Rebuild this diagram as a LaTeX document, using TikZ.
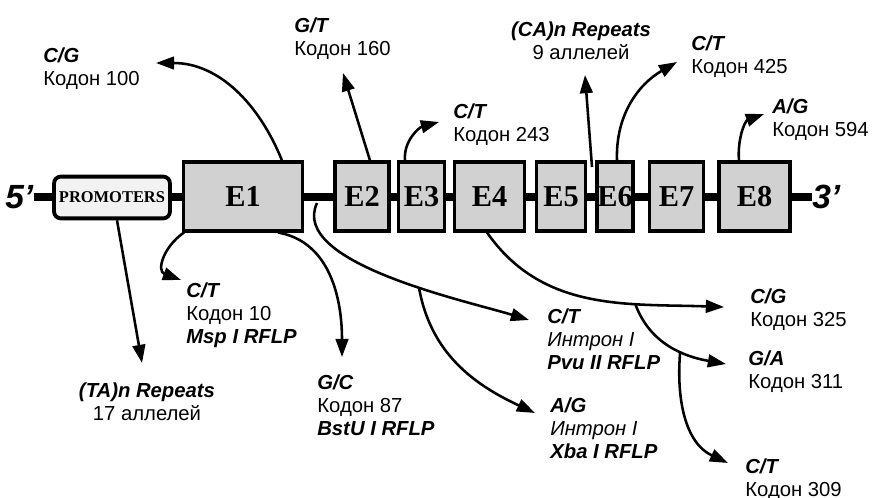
\documentclass[tikz,border=0pt]{standalone}
\usepackage{fontspec}
\setmainfont{Liberation Sans}
\newfontfamily\exonfont{Liberation Serif}
\usetikzlibrary{arrows.meta, positioning}

\begin{document}
\begin{tikzpicture}[
    x=0.022cm, y=-0.022cm,
    every node/.style={inner sep=0pt},
    exon/.style={
            rectangle,
            draw,
            line width=2.4pt,
            fill=black!18,
            minimum height=1.5cm,
            font={\exonfont\bfseries\fontsize{19}{19}\selectfont}
        },
    promoter_block/.style={
            rectangle,
            rounded corners=1.5mm,
            draw,
            line width=2.4pt,
            fill=black!5,
            minimum width=2.55cm,
            minimum height=0.92cm,
            font={\exonfont\bfseries\fontsize{10.3}{10}\selectfont}
        },
    strand_end/.style={font={\bfseries\itshape\fontsize{21}{21}\selectfont}},
    allele/.style={align=left, anchor=north west, font={\fontsize{12.7}{14.4}\selectfont}},
    arrow/.style={line width=1.6pt, -{Triangle[length=4mm, width=2.8mm]}},
    backbone/.style={line width=5pt},
    ]
    \useasboundingbox (0,0) rectangle (873,498);

    % --- Gene ---
    \node[strand_end, anchor=west] (p5) at (5,197) {5’};
    \node[strand_end, anchor=west] (p3) at (812,197) {3’};
    \draw[backbone] (p5.east) -- (p3.west);

    \node[promoter_block] (promoters) at (112,197.5) {PROMOTERS};
    \node[exon, minimum width=2.62cm] (e1) at (243,196.5) {E1};
    \node[exon, minimum width=1.17cm] (e2) at (362,196.5) {E2};
    \node[exon, minimum width=1.01cm] (e3) at (421.5,196.5) {E3};
    \node[exon, minimum width=1.54cm] (e4) at (489.5,196.5) {E4};
    \node[exon, minimum width=1.08cm] (e5) at (561,196.5) {E5};
    \node[exon, minimum width=0.77cm] (e6) at (615,196.5) {E6};
    \node[exon, minimum width=1.19cm] (e7) at (676.5,196.5) {E7};
    \node[exon, minimum width=1.58cm] (e8) at (754.5,196.5) {E8};

    % --- Upper labels ---
    \node[allele] (k100) at (43,47) {{\bfseries\itshape C/G}\\Кодон 100};
    \node[allele] (k160) at (294,17) {{\bfseries\itshape G/T}\\Кодон 160};
    \node[allele] (k243) at (453,103) {{\bfseries\itshape C/T}\\Кодон 243};
    \node[allele, align=center, anchor=north] (ca_rep) at (581,21) {{\bfseries\itshape (CA)n Repeats}\\9 аллелей};
    \node[allele] (k425) at (691,35) {{\bfseries\itshape C/T}\\Кодон 425};
    \node[allele] (k594) at (772,98) {{\bfseries\itshape A/G}\\Кодон 594};

    % --- Lower labels ---
    \node[allele] (k10) at (186,282) {{\bfseries\itshape C/T}\\Кодон 10\\{\bfseries\itshape Msp I RFLP}};
    \node[allele, align=center, anchor=north] (ta_rep) at (147,382) {{\bfseries\itshape (TA)n Repeats}\\17 аллелей};
    \node[allele] (k87) at (317,374) {{\bfseries\itshape G/C}\\Кодон 87\\{\bfseries\itshape BstU I RFLP}};
    \node[allele] (pvu) at (547,308) {{\bfseries\itshape C/T}\\{\itshape Интрон I}\\{\bfseries\itshape Pvu II RFLP}};
    \node[allele] (xba) at (550,397) {{\bfseries\itshape A/G}\\{\itshape Интрон I}\\{\bfseries\itshape Xba I RFLP}};
    \node[allele] (k325) at (750,288) {{\bfseries\itshape C/G}\\Кодон 325};
    \node[allele] (k311) at (748,350) {{\bfseries\itshape G/A}\\Кодон 311};
    \node[allele] (k309) at (745,458) {{\bfseries\itshape C/T}\\Кодон 309};

    % --- Arrow tips and free ends ---
    \coordinate (t100) at (156,63);
    \coordinate (t160) at (343,73);
    \coordinate (t243) at (439,122);
    \coordinate (ca_start) at (592,167);
    \coordinate (tca) at (585,75);
    \coordinate (t425) at (677,62);
    \coordinate (t594) at (764,114);
    \coordinate (t10) at (181,280);
    \coordinate (t87) at (342,357);
    \coordinate (tta) at (142,363);
    \coordinate (intron) at (317,203);
    \coordinate (tpvu) at (529,320);
    \coordinate (txba) at (535,413);
    \coordinate (t325) at (724,307);
    \coordinate (t311) at (726,364);
    \coordinate (t309) at (728,463);

    % --- Arrows up ---
    \draw[arrow] (282,0 |- e1.north) to [out=112, in=0] (t100);
    \draw[arrow] (370,0 |- e2.north) -- (t160);
    \draw[arrow] (405,0 |- e3.north) to [out=95, in=195] (t243);
    \draw[arrow] (ca_start) -- (tca);
    \draw[arrow] (617,0 |- e6.north) to [out=92, in=210] (t425);
    \draw[arrow] (739,0 |- e8.north) to [out=95, in=200] (t594);

    % --- Arrows down ---
    \draw[arrow] (184,0 |- e1.south) to [out=215, in=160, looseness=1.4] (t10);
    \draw[arrow] (278,0 |- e1.south) to [out=-10, in=90] (t87);
    \draw[arrow] (117,0 |- promoters.south) -- (tta);
    \draw[arrow] (intron) to [out=245, in=163, looseness=0.7] coordinate[pos=0.6] (intron_branch) (tpvu);
    \draw[arrow] (intron_branch) to [out=-80, in=155] (txba);
    \draw[arrow] (487,0 |- e4.south) to [out=-55, in=178] coordinate[pos=0.68] (e4_branch) (t325);
    \draw[arrow] (e4_branch) to [out=-70, in=170] coordinate[pos=0.6] (e4_branch2) (t311);
    \draw[arrow] (e4_branch2) to [out=-95, in=155] (t309);

\end{tikzpicture}
\end{document}
